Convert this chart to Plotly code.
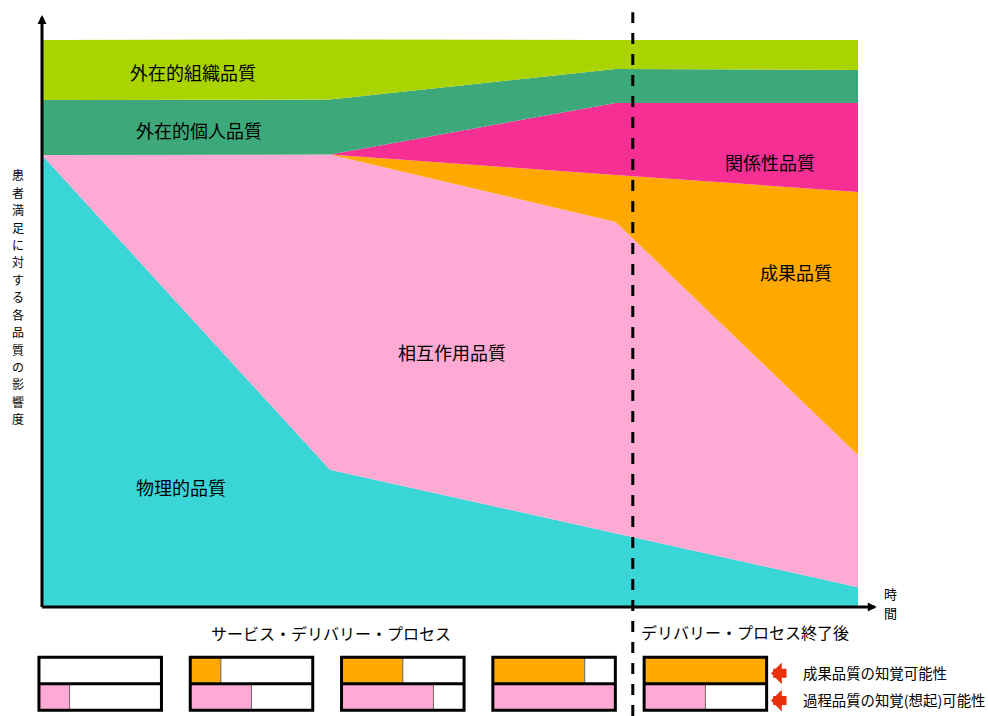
import plotly.graph_objects as go

FONT = "Noto Sans CJK JP"

# Time axis: 0 = start of service delivery, 100 = end of the observed period
time_points = [0, 35.3, 70.3, 100]
delivery_end = 72.4

# Influence of each quality dimension on patient satisfaction (stacked, sums to 100)
physical = [79.7, 24.2, 13.0, 3.5]
interaction = [0, 55.6, 54.9, 23.3]
outcome = [0, 0, 8.3, 46.4]
relational = [0, 0, 12.7, 15.7]
personal_ext = [9.7, 9.7, 6.0, 5.8]
organizational_ext = [10.6, 10.6, 5.1, 5.3]

layer_names = ["物理的品質", "相互作用品質", "成果品質", "関係性品質", "外在的個人品質", "外在的組織品質"]
layer_values = [physical, interaction, outcome, relational, personal_ext, organizational_ext]
layer_colors = ["#3AD5D6", "#FFAAD4", "#FFA800", "#F62F94", "#3DA87A", "#AAD400"]
label_pos = [(17.0, 21.2), (50.3, 44.9), (92.4, 59.1), (89.2, 78.5), (19.2, 84.1), (18.5, 94.3)]

y_title = "患者満足に対する各品質の影響度"
x_title = "時間"

# Perceivability of outcome / process quality at each stage (fraction of the box)
outcome_perceivability = [0, 0.25, 0.5, 0.75, 1.0]
process_perceivability = [0.25, 0.5, 0.75, 1.0, 0.5]
panel_spacing = 1.235
panel_left = [i * panel_spacing for i in range(len(outcome_perceivability))]

fig = go.Figure()

for name, vals, col in zip(layer_names, layer_values, layer_colors):
    fig.add_trace(go.Scatter(
        x=time_points, y=vals, name=name, stackgroup="q", mode="lines",
        line=dict(width=0, color=col), fillcolor=col, hoverinfo="skip",
        showlegend=False,
    ))

# Perceivability bars (top row = outcome, bottom row = process)
fig.add_trace(go.Bar(
    x=outcome_perceivability, base=panel_left, y=[1] * len(panel_left),
    width=1, orientation="h", marker=dict(color="#FFA800", line=dict(color="#666666", width=1)),
    xaxis="x2", yaxis="y2", showlegend=False, hoverinfo="skip",
))
fig.add_trace(go.Bar(
    x=process_perceivability, base=panel_left, y=[0] * len(panel_left),
    width=1, orientation="h", marker=dict(color="#FFAAD4", line=dict(color="#666666", width=1)),
    xaxis="x2", yaxis="y2", showlegend=False, hoverinfo="skip",
))

shapes = []
for left in panel_left:
    shapes.append(dict(type="rect", xref="x2", yref="y2", x0=left, x1=left + 1, y0=-0.5, y1=1.5,
                       line=dict(color="black", width=3), fillcolor="rgba(0,0,0,0)"))
    shapes.append(dict(type="line", xref="x2", yref="y2", x0=left, x1=left + 1, y0=0.5, y1=0.5,
                       line=dict(color="black", width=3)))

# End of service delivery
shapes.append(dict(type="line", xref="x", yref="y", x0=delivery_end, x1=delivery_end,
                   y0=-19.22, y1=104.9, line=dict(color="black", width=3, dash="11px,10px")))

annotations = []
for name, (lx, ly) in zip(layer_names, label_pos):
    annotations.append(dict(x=lx, y=ly, xref="x", yref="y", text=name, showarrow=False,
                            font=dict(family=FONT, size=18, color="#000000")))

# Axis arrows
annotations.append(dict(x=0, y=104.4, ax=0, ay=-0.26, xref="x", yref="y", axref="x", ayref="y",
                        text="", showarrow=True, arrowhead=2, arrowsize=0.6, arrowwidth=3,
                        arrowcolor="black", standoff=0))
annotations.append(dict(x=102.3, y=0, ax=-0.18, ay=0, xref="x", yref="y", axref="x", ayref="y",
                        text="", showarrow=True, arrowhead=2, arrowsize=0.6, arrowwidth=3,
                        arrowcolor="black", standoff=0))

# Vertical (stacked) axis titles, one character per line
for i, ch in enumerate(y_title):
    annotations.append(dict(x=-2.94, y=76.2 - 3.07 * i, xref="x", yref="y", showarrow=False,
                            text=ch, font=dict(family=FONT, size=12, color="#000000")))
for i, ch in enumerate(x_title):
    annotations.append(dict(x=104.0, y=2.3 - 3.35 * i, xref="x", yref="y", showarrow=False,
                            text=ch, font=dict(family=FONT, size=13, color="#000000")))

annotations.append(dict(x=35.4, y=-4.5, xref="x", yref="y", showarrow=False,
                        text="サービス・デリバリー・プロセス",
                        font=dict(family=FONT, size=16, color="#000000")))
annotations.append(dict(x=86.15, y=-4.4, xref="x", yref="y", showarrow=False,
                        text="デリバリー・プロセス終了後",
                        font=dict(family=FONT, size=16, color="#000000")))

# Legend for the perceivability rows
for ly, txt in [(-11.5, "成果品質の知覚可能性"), (-16.3, "過程品質の知覚(想起)可能性")]:
    annotations.append(dict(x=89.34, y=ly - 0.2, xref="x", yref="y", ax=17, ay=0, text="",
                            showarrow=True, arrowhead=1, arrowsize=0.4, arrowwidth=9,
                            arrowcolor="#E8300C", standoff=0))
    annotations.append(dict(x=93.0, y=ly, xref="x", yref="y", showarrow=False, text=txt,
                            xanchor="left", font=dict(family=FONT, size=14.4, color="#000000")))

fig.update_layout(
    width=988, height=716,
    margin=dict(l=0, r=0, t=0, b=0),
    paper_bgcolor="white", plot_bgcolor="rgba(0,0,0,0)",
    xaxis=dict(range=[-5.147, 115.93], visible=False, fixedrange=True),
    yaxis=dict(range=[-19.22, 107.05], visible=False, fixedrange=True),
    xaxis2=dict(range=[-0.318, 7.747], overlaying="x", anchor="y2", visible=False, fixedrange=True),
    yaxis2=dict(range=[-0.717, 26.30], overlaying="y", anchor="x2", visible=False, fixedrange=True),
    shapes=shapes, annotations=annotations,
    barmode="overlay",
)

fig.write_html("out.html")
